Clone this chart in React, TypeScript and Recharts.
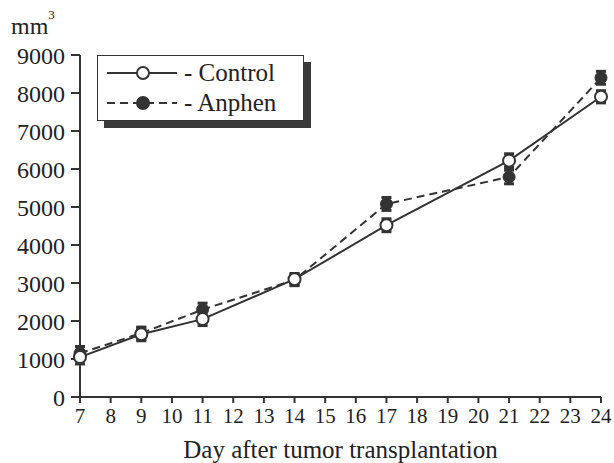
import { LineChart, Line, XAxis, YAxis, ErrorBar } from "recharts";

const days = [7, 9, 11, 14, 17, 21, 24];
const control = [1050, 1650, 2050, 3100, 4520, 6220, 7900];
const controlErr = [180, 170, 170, 150, 170, 180, 160];
const anphen = [1150, 1680, 2300, 3080, 5080, 5790, 8400];
const anphenErr = [180, 160, 170, 150, 170, 180, 170];

const xTicks = [7, 8, 9, 10, 11, 12, 13, 14, 15, 16, 17, 18, 19, 20, 21, 22, 23, 24];
const yTicks = [0, 1000, 2000, 3000, 4000, 5000, 6000, 7000, 8000, 9000];

const data = days.map((d, i) => ({
  day: d,
  control: control[i],
  controlErr: controlErr[i],
  anphen: anphen[i],
  anphenErr: anphenErr[i],
}));

const INK = "#333";
const TEXT = "#222";
const FONT = "Liberation Serif, serif";

// legend drawn on top of the plot, with its hard drop shadow
function LegendBox() {
  return (
    <div
      style={{
        position: "absolute",
        left: 97,
        top: 55,
        width: 207,
        height: 66,
        border: `1px solid ${INK}`,
        background: "#fff",
        boxShadow: `7px 7px 0 #3a3a3a`,
        boxSizing: "border-box",
        fontFamily: FONT,
        fontSize: 25,
        color: TEXT,
        padding: "2px 0 0 7px",
      }}
    >
      <div style={{ display: "flex", alignItems: "center", height: 30 }}>
        <svg width={74} height={20}>
          <line x1={2} y1={10} x2={72} y2={10} stroke={INK} strokeWidth={2} />
          <circle cx={38} cy={10} r={6} fill="#fff" stroke={INK} strokeWidth={2} />
        </svg>
        <span style={{ marginLeft: 5 }}>- Control</span>
      </div>
      <div style={{ display: "flex", alignItems: "center", height: 30 }}>
        <svg width={74} height={20}>
          <line x1={2} y1={10} x2={72} y2={10} stroke={INK} strokeWidth={2} strokeDasharray="8 5" />
          <circle cx={38} cy={10} r={6} fill={INK} stroke={INK} strokeWidth={2} />
        </svg>
        <span style={{ marginLeft: 5 }}>- Anphen</span>
      </div>
    </div>
  );
}

export default function App() {
  return (
    <div style={{ position: "absolute", left: 0, top: 0, width: 614, height: 463, background: "#fff" }}>
      <div
        style={{
          position: "absolute",
          left: 11,
          top: 14,
          fontFamily: FONT,
          fontSize: 24,
          color: TEXT,
          lineHeight: 1,
        }}
      >
        mm<sup style={{ fontSize: 13, verticalAlign: "top", position: "relative", top: -6 }}>3</sup>
      </div>
      <LineChart
        width={614}
        height={463}
        data={data}
        margin={{ top: 55, right: 13, bottom: 4, left: 0 }}
      >
        <XAxis
          dataKey="day"
          type="number"
          domain={[7, 24]}
          ticks={xTicks}
          interval={0}
          stroke={INK}
          strokeWidth={2}
          tickSize={6}
          tickMargin={5}
          height={62}
          tick={{ fontFamily: FONT, fontSize: 21, fill: TEXT }}
          label={{
            value: "Day after tumor transplantation",
            position: "insideBottom",
            offset: 1,
            style: { fontFamily: FONT, fontSize: 25, fill: TEXT },
          }}
        />
        <YAxis
          type="number"
          domain={[0, 9000]}
          ticks={yTicks}
          interval={0}
          width={80}
          stroke={INK}
          strokeWidth={2}
          tickSize={9}
          tickMargin={6}
          tick={{ fontFamily: FONT, fontSize: 24, fill: TEXT }}
        />
        <Line
          dataKey="anphen"
          stroke={INK}
          strokeWidth={2}
          strokeDasharray="8 5"
          isAnimationActive={false}
          dot={{ r: 6, fill: INK, stroke: INK, strokeWidth: 1, strokeDasharray: "" }}
        >
          <ErrorBar dataKey="anphenErr" width={5} strokeWidth={3} stroke={INK} direction="y" />
        </Line>
        <Line
          dataKey="control"
          stroke={INK}
          strokeWidth={2}
          isAnimationActive={false}
          dot={{ r: 6, fill: "#fff", stroke: INK, strokeWidth: 2 }}
        >
          <ErrorBar dataKey="controlErr" width={5} strokeWidth={3} stroke={INK} direction="y" />
        </Line>
      </LineChart>
      <LegendBox />
    </div>
  );
}
